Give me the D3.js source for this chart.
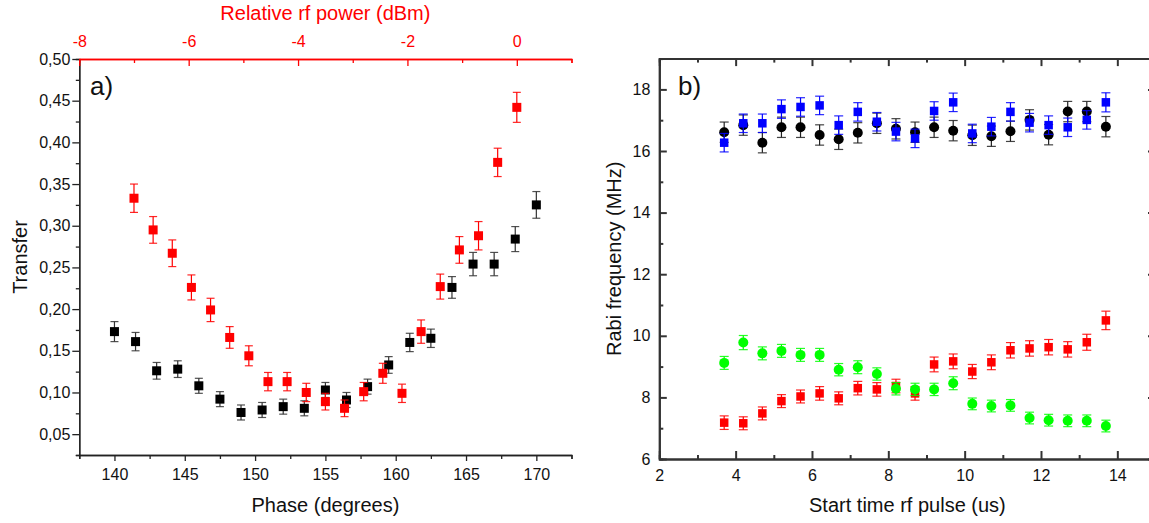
<!DOCTYPE html>
<html>
<head>
<meta charset="utf-8">
<script src="https://cdn.jsdelivr.net/npm/d3@7"></script>
<style>
  html, body { margin: 0; padding: 0; background: #fff; }
  svg { display: block; font-family: "Liberation Sans", Arial, sans-serif; }
</style>
</head>
<body>
<svg id="chart" width="1149" height="523"></svg>
<script>
// ---------- Panel a) data ----------
const phaseBlack = [140, 141.5, 143, 144.5, 146, 147.5, 149, 150.5, 152, 153.5, 155, 156.5, 158, 159.5, 161, 162.5, 164, 165.5, 167, 168.5, 170];
const transferBlack = [0.173, 0.161, 0.126, 0.128, 0.108, 0.092, 0.076, 0.079, 0.083, 0.081, 0.103, 0.091, 0.107, 0.133, 0.160, 0.165, 0.226, 0.254, 0.254, 0.284, 0.325];
const errBlack = [0.012, 0.011, 0.010, 0.010, 0.009, 0.009, 0.009, 0.009, 0.009, 0.009, 0.009, 0.009, 0.009, 0.010, 0.011, 0.011, 0.013, 0.014, 0.014, 0.015, 0.016];

const powerRed = [-7.0, -6.65, -6.3, -5.95, -5.6, -5.25, -4.9, -4.55, -4.2, -3.85, -3.5, -3.15, -2.8, -2.45, -2.1, -1.75, -1.4, -1.05, -0.7, -0.35, 0];
const transferRed = [0.333, 0.295, 0.267, 0.226, 0.199, 0.166, 0.144, 0.113, 0.113, 0.100, 0.089, 0.081, 0.101, 0.123, 0.099, 0.173, 0.227, 0.271, 0.288, 0.376, 0.442];
const errRed = [0.017, 0.016, 0.016, 0.015, 0.014, 0.013, 0.012, 0.011, 0.011, 0.011, 0.010, 0.010, 0.011, 0.012, 0.011, 0.014, 0.015, 0.016, 0.017, 0.017, 0.018];

const phaseTicks = [140, 145, 150, 155, 160, 165, 170];
const powerTicks = [-8, -6, -4, -2, 0];
const transferTicks = [0.05, 0.10, 0.15, 0.20, 0.25, 0.30, 0.35, 0.40, 0.45, 0.50];

// ---------- Panel b) data ----------
const startTime = [3.7, 4.2, 4.7, 5.2, 5.7, 6.2, 6.7, 7.2, 7.7, 8.2, 8.7, 9.2, 9.7, 10.2, 10.7, 11.2, 11.7, 12.2, 12.7, 13.2, 13.7];
const rabiBlack = [16.61, 16.84, 16.27, 16.77, 16.77, 16.52, 16.38, 16.59, 16.90, 16.72, 16.61, 16.77, 16.66, 16.51, 16.48, 16.64, 17.01, 16.53, 17.28, 17.28, 16.79];
const errRabiBlack = [0.33, 0.33, 0.33, 0.33, 0.33, 0.33, 0.33, 0.33, 0.33, 0.33, 0.33, 0.33, 0.33, 0.33, 0.33, 0.33, 0.33, 0.33, 0.33, 0.33, 0.33];
const rabiBlue = [16.27, 16.90, 16.90, 17.36, 17.43, 17.48, 16.84, 17.27, 16.95, 16.63, 16.41, 17.30, 17.58, 16.57, 16.79, 17.27, 16.92, 16.84, 16.77, 17.01, 17.58];
const errRabiBlue = [0.30, 0.30, 0.30, 0.30, 0.30, 0.30, 0.30, 0.30, 0.30, 0.30, 0.30, 0.30, 0.30, 0.30, 0.30, 0.30, 0.30, 0.30, 0.30, 0.30, 0.31];
const rabiRed = [7.18, 7.16, 7.48, 7.88, 8.03, 8.13, 7.97, 8.30, 8.26, 8.37, 8.13, 9.07, 9.17, 8.84, 9.14, 9.53, 9.59, 9.63, 9.56, 9.79, 10.50];
const errRabiRed = [0.22, 0.21, 0.21, 0.21, 0.21, 0.22, 0.21, 0.22, 0.22, 0.22, 0.22, 0.24, 0.24, 0.23, 0.24, 0.25, 0.25, 0.25, 0.25, 0.26, 0.30];
const rabiGreen = [9.12, 9.78, 9.43, 9.51, 9.38, 9.38, 8.90, 8.98, 8.76, 8.28, 8.26, 8.26, 8.46, 7.79, 7.72, 7.74, 7.33, 7.26, 7.24, 7.24, 7.07];
const errRabiGreen = [0.21, 0.23, 0.21, 0.21, 0.21, 0.21, 0.20, 0.21, 0.20, 0.20, 0.20, 0.20, 0.21, 0.19, 0.19, 0.19, 0.19, 0.19, 0.19, 0.19, 0.19];

const timeTicks = [2, 4, 6, 8, 10, 12, 14];
const rabiTicks = [6, 8, 10, 12, 14, 16, 18];

// ---------- styles ----------
const RED = "#ff0000", BLUE = "#0000ff", GREEN = "#00ff00", BLACK = "#000000";
const svg = d3.select("#chart");

// ---------- scales ----------
const A = { left: 79.3, right: 571.5, top: 59, bottom: 455 };
const xPhase = d3.scaleLinear().domain([137.5, 172.5]).range([A.left, A.right]);
const xPower = d3.scaleLinear().domain([-8, 1]).range([A.left, A.right]);
const yTrans = d3.scaleLinear().domain([0.025, 0.5]).range([A.bottom, A.top]);

const B = { left: 659.3, right: 1155.5, top: 58.6, bottom: 459 };
const xTime = d3.scaleLinear().domain([2, 15]).range([B.left, B.right]);
const yRabi = d3.scaleLinear().domain([6, 19]).range([B.bottom, B.top]);

const fmtComma = d => d.toFixed(2).replace(".", ",");

function styleAxis(g, color, width, fontSize) {
  g.attr("font-family", null).attr("font-size", null);
  g.select(".domain").attr("stroke", color).attr("stroke-width", width);
  g.selectAll(".tick line").attr("stroke", color).attr("stroke-width", width);
  g.selectAll(".tick text").attr("fill", color).style("font-size", fontSize + "px");
}

// ---------- Panel a) axes ----------
// left axis: outward ticks
const aMinorY = d3.range(0.025, 0.5001, 0.05);
svg.append("g").attr("transform", `translate(${A.left},0)`)
  .call(d3.axisLeft(yTrans).tickValues(aMinorY).tickSize(3.5).tickFormat(""))
  .call(g => styleAxis(g, "#222", 1.3, 16));
svg.append("g").attr("transform", `translate(${A.left},0)`)
  .call(d3.axisLeft(yTrans).tickValues(transferTicks).tickSizeInner(7).tickSizeOuter(0).tickPadding(2).tickFormat(fmtComma))
  .call(g => styleAxis(g, "#222", 1.3, 16))
  .call(g => g.selectAll(".tick text").attr("fill", "#111"));

// bottom axis: outward ticks
const aMinorX = d3.range(137.5, 172.51, 5);
svg.append("g").attr("transform", `translate(0,${A.bottom})`)
  .call(d3.axisBottom(xPhase).tickValues(aMinorX).tickSize(4).tickFormat(""))
  .call(g => styleAxis(g, "#222", 1.3, 16));
svg.append("g").attr("transform", `translate(0,${A.bottom})`)
  .call(d3.axisBottom(xPhase).tickValues(phaseTicks).tickSizeInner(6).tickSizeOuter(0).tickPadding(8).tickFormat(d3.format("d")))
  .call(g => styleAxis(g, "#222", 1.3, 16))
  .call(g => g.selectAll(".tick text").attr("fill", "#111"));

// top axis (red): inward ticks
svg.append("g").attr("transform", `translate(0,${A.top})`)
  .call(d3.axisTop(xPower).tickValues([-7, -5, -3, -1, 1]).tickSize(-4).tickFormat(""))
  .call(g => styleAxis(g, RED, 1.3, 16));
svg.append("g").attr("transform", `translate(0,${A.top})`)
  .call(d3.axisTop(xPower).tickValues(powerTicks).tickSizeInner(-7).tickSizeOuter(0).tickPadding(12).tickFormat(d3.format("d")))
  .call(g => styleAxis(g, RED, 1.3, 16))
  .call(g => g.selectAll(".tick text").text(d => d === 0 ? "0" : String(d)));

// titles
svg.append("text").attr("x", (A.left + A.right) / 2).attr("y", 19.5)
  .attr("text-anchor", "middle").attr("fill", RED).style("font-size", "20px")
  .text("Relative rf power (dBm)");
svg.append("text").attr("x", (A.left + A.right) / 2).attr("y", 511.5)
  .attr("text-anchor", "middle").attr("fill", "#111").style("font-size", "20px")
  .text("Phase (degrees)");
svg.append("text").attr("transform", `translate(27,${(A.top + A.bottom) / 2}) rotate(-90)`)
  .attr("text-anchor", "middle").attr("fill", "#111").style("font-size", "20px")
  .text("Transfer");
svg.append("text").attr("x", 90).attr("y", 95).attr("fill", "#111").style("font-size", "26px").text("a)");

// ---------- Panel b) axes ----------
const axColB = "#333";
// left
svg.append("g").attr("transform", `translate(${B.left},0)`)
  .call(d3.axisLeft(yRabi).tickValues(d3.range(7, 19.01, 2)).tickSize(-4).tickFormat(""))
  .call(g => styleAxis(g, axColB, 2, 16));
svg.append("g").attr("transform", `translate(${B.left},0)`)
  .call(d3.axisLeft(yRabi).tickValues(rabiTicks).tickSizeInner(-7.5).tickSizeOuter(0).tickPadding(9).tickFormat(d3.format("d")))
  .call(g => styleAxis(g, axColB, 2, 16))
  .call(g => g.selectAll(".tick text").attr("fill", "#111"));
// right (mostly outside window)
svg.append("g").attr("transform", `translate(${B.right},0)`)
  .call(d3.axisRight(yRabi).tickValues(d3.range(7, 19.01, 2)).tickSize(-4).tickFormat(""))
  .call(g => styleAxis(g, axColB, 2, 16));
svg.append("g").attr("transform", `translate(${B.right},0)`)
  .call(d3.axisRight(yRabi).tickValues(rabiTicks).tickSizeInner(-7.5).tickSizeOuter(0).tickFormat(""))
  .call(g => styleAxis(g, axColB, 2, 16));
// bottom
svg.append("g").attr("transform", `translate(0,${B.bottom})`)
  .call(d3.axisBottom(xTime).tickValues(d3.range(3, 15.01, 2)).tickSize(-4).tickFormat(""))
  .call(g => styleAxis(g, axColB, 2, 16));
svg.append("g").attr("transform", `translate(0,${B.bottom})`)
  .call(d3.axisBottom(xTime).tickValues(timeTicks).tickSizeInner(-8).tickSizeOuter(0).tickPadding(11).tickFormat(d3.format("d")))
  .call(g => styleAxis(g, axColB, 2, 16))
  .call(g => g.selectAll(".tick text").attr("fill", "#111"));
// top
svg.append("g").attr("transform", `translate(0,${B.top})`)
  .call(d3.axisTop(xTime).tickValues(d3.range(3, 15.01, 2)).tickSize(-4).tickFormat(""))
  .call(g => styleAxis(g, axColB, 2, 16));
svg.append("g").attr("transform", `translate(0,${B.top})`)
  .call(d3.axisTop(xTime).tickValues(d3.range(2, 15.01, 2)).tickSizeInner(-7.5).tickSizeOuter(0).tickFormat(""))
  .call(g => styleAxis(g, axColB, 2, 16));

svg.append("text").attr("x", (B.left + B.right) / 2).attr("y", 512)
  .attr("text-anchor", "middle").attr("fill", "#111").style("font-size", "20px")
  .text("Start time rf pulse (us)");
svg.append("text").attr("transform", `translate(621,${(B.top + B.bottom) / 2}) rotate(-90)`)
  .attr("text-anchor", "middle").attr("fill", "#111").style("font-size", "20px")
  .text("Rabi frequency (MHz)");
svg.append("text").attr("x", 678).attr("y", 95).attr("fill", "#111").style("font-size", "26px").text("b)");

// ---------- series drawing ----------
function drawSeries(xs, ys, es, xScale, yScale, color, barColor, shape, size, cap) {
  const data = xs.map((x, i) => ({ x, y: ys[i], e: es[i] }));
  const g = svg.append("g");
  const eb = g.append("g").attr("stroke", barColor).attr("stroke-width", 1.2).attr("fill", "none");
  data.forEach(d => {
    const cx = xScale(d.x), y1 = yScale(d.y - d.e), y2 = yScale(d.y + d.e);
    eb.append("line").attr("x1", cx).attr("x2", cx).attr("y1", y1).attr("y2", y2);
    eb.append("line").attr("x1", cx - cap / 2).attr("x2", cx + cap / 2).attr("y1", y1).attr("y2", y1).attr("stroke-opacity", 0.85);
    eb.append("line").attr("x1", cx - cap / 2).attr("x2", cx + cap / 2).attr("y1", y2).attr("y2", y2).attr("stroke-opacity", 0.85);
  });
  if (shape === "square") {
    g.selectAll("rect.m").data(data).join("rect").attr("class", "m")
      .attr("x", d => xScale(d.x) - size / 2).attr("y", d => yScale(d.y) - size / 2)
      .attr("width", size).attr("height", size).attr("fill", color);
  } else {
    g.selectAll("circle.m").data(data).join("circle").attr("class", "m")
      .attr("cx", d => xScale(d.x)).attr("cy", d => yScale(d.y))
      .attr("r", size / 2).attr("fill", color);
  }
}

// Panel a
drawSeries(phaseBlack, transferBlack, errBlack, xPhase, yTrans, BLACK, "#333", "square", 9, 8);
drawSeries(powerRed, transferRed, errRed, xPower, yTrans, RED, RED, "square", 9, 8);

// Panel b
drawSeries(startTime, rabiBlack, errRabiBlack, xTime, yRabi, BLACK, "#222", "circle", 10, 9);
drawSeries(startTime, rabiBlue, errRabiBlue, xTime, yRabi, BLUE, BLUE, "square", 8.5, 9);
drawSeries(startTime, rabiRed, errRabiRed, xTime, yRabi, RED, RED, "square", 8.5, 9);
drawSeries(startTime, rabiGreen, errRabiGreen, xTime, yRabi, GREEN, GREEN, "circle", 10, 9);
</script>
</body>
</html>
